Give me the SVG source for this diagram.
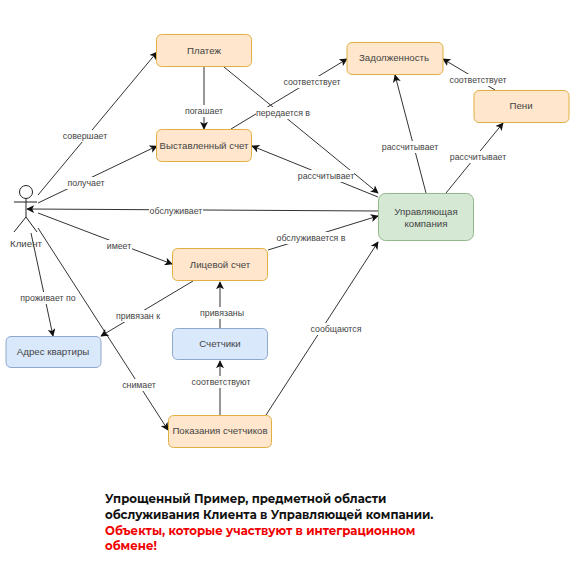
<svg xmlns="http://www.w3.org/2000/svg" width="584" height="565" viewBox="0 0 584 565">
<defs>
<marker id="arr" viewBox="0 0 10 10" refX="9" refY="5" markerWidth="8" markerHeight="8" markerUnits="userSpaceOnUse" orient="auto"><path d="M0 0L10 5L0 10L2.5 5Z" fill="#111"/></marker>
</defs>
<style>
text{font-family:"Liberation Sans",Arial,sans-serif;fill:#444;text-anchor:middle}
.n{font-size:9.700px}
.l{font-size:8.800px;fill:#444}
.c path{fill:none;stroke:#333;stroke-width:1;marker-end:url(#arr)}
.bg{fill:#fff}
.o{fill:#ffe6cc;stroke:#e0b040;stroke-width:1}
.b{fill:#dae8fc;stroke:#8fa8cc;stroke-width:1}
.g{fill:#d5e8d4;stroke:#92b88c;stroke-width:1}
.t{font-family:"Montserrat","Open Sans","Noto Sans",sans-serif;font-size:11.760px;font-weight:700;text-anchor:start;fill:#111}
</style>
<rect width="584" height="565" fill="#fff"/>
<g id="connectors" class="c">
<path d="M38 195L157 52"/>
<path d="M38 203L157 146"/>
<path d="M378 211L27 209"/>
<path d="M38 213L172 264"/>
<path d="M31 233L53 336"/>
<path d="M38 228L168 430"/>
<path d="M204 66V129"/>
<path d="M224 67L378 193"/>
<path d="M231 129L347 59"/>
<path d="M378 197L252 146"/>
<path d="M426 193L395 75"/>
<path d="M446 193L503 123"/>
<path d="M495 90L443 59"/>
<path d="M268 250L378 216"/>
<path d="M193 281L101 336"/>
<path d="M220 328V282"/>
<path d="M220 415V361"/>
<path d="M266 415L378 242"/>
</g>
<g id="connector-labels">
<rect class="bg" x="62" y="130" width="46" height="12"/><text class="l" x="85" y="139">совершает</text>
<rect class="bg" x="66" y="177" width="40" height="12"/><text class="l" x="86" y="186">получает</text>
<rect class="bg" x="149" y="205" width="54" height="11"/><text class="l" x="176" y="214">обслуживает</text>
<rect class="bg" x="106" y="240" width="26" height="12"/><text class="l" x="119" y="249">имеет</text>
<rect class="bg" x="20" y="292" width="56" height="12"/><text class="l" x="48" y="301">проживает по</text>
<rect class="bg" x="122" y="379" width="34" height="12"/><text class="l" x="139" y="388">снимает</text>
<rect class="bg" x="184" y="105" width="40" height="12"/><text class="l" x="204" y="114">погашает</text>
<rect class="bg" x="256" y="107" width="56" height="12"/><text class="l" x="283" y="116">передается в</text>
<rect class="bg" x="282" y="76" width="60" height="12"/><text class="l" x="312" y="85">соответствует</text>
<rect class="bg" x="382" y="141" width="56" height="12"/><text class="l" x="410" y="150">рассчитывает</text>
<rect class="bg" x="450" y="151" width="56" height="12"/><text class="l" x="478" y="160">рассчитывает</text>
<rect class="bg" x="298" y="170" width="56" height="12"/><text class="l" x="326" y="179">рассчитывает</text>
<rect class="bg" x="448" y="74" width="60" height="12"/><text class="l" x="478" y="83">соответствует</text>
<rect class="bg" x="277" y="232" width="68" height="12"/><text class="l" x="311" y="241">обслуживается в</text>
<rect class="bg" x="115" y="310" width="46" height="12"/><text class="l" x="138" y="319">привязан к</text>
<rect class="bg" x="200" y="307" width="44" height="12"/><text class="l" x="222" y="316">привязаны</text>
<rect class="bg" x="192" y="376" width="58" height="12"/><text class="l" x="221" y="385">соответствуют</text>
<rect class="bg" x="311" y="323" width="50" height="12"/><text class="l" x="336" y="332">сообщаются</text>
</g>
<g id="client" fill="none" stroke="#222" stroke-width="1">
<circle cx="26" cy="192" r="6.500" fill="#fff"/>
<path d="M26 198.500V217M14 202H37M26 217L14 232M26 217L37 232"/>
<text x="26" y="247" style="stroke:none;font-size:9.700px">Клиент</text>
</g>
<g id="payment"><rect class="o" x="156.500" y="34.500" width="95" height="32" rx="5"/><text class="n" x="204" y="54">Платеж</text></g>
<g id="invoice"><rect class="o" x="156.500" y="129.500" width="95" height="32" rx="5"/><text class="n" x="204" y="149">Выставленный счет</text></g>
<g id="debt"><rect class="o" x="347" y="42.500" width="96" height="32" rx="5"/><text class="n" x="394" y="61">Задолженность</text></g>
<g id="penalty"><rect class="o" x="474" y="90.500" width="95" height="32" rx="5"/><text class="n" x="521" y="109">Пени</text></g>
<g id="company"><rect class="g" x="378.500" y="193.500" width="95" height="47" rx="7"/><text class="n" x="426" y="215">Управляющая</text><text class="n" x="426" y="227">компания</text></g>
<g id="account"><rect class="o" x="172.500" y="248.500" width="95" height="32" rx="5"/><text class="n" x="220" y="268">Лицевой счет</text></g>
<g id="address"><rect class="b" x="6" y="336.500" width="95" height="31" rx="5"/><text class="n" x="53" y="355">Адрес квартиры</text></g>
<g id="meters"><rect class="b" x="172.500" y="328.500" width="95" height="31" rx="5"/><text class="n" x="220" y="347">Счетчики</text></g>
<g id="readings"><rect class="o" x="168.500" y="415.500" width="103" height="32" rx="5"/><text class="n" x="220" y="434">Показания счетчиков</text></g>
<g id="caption">
<text class="t" x="105" y="503">Упрощенный Пример, предметной области</text>
<text class="t" x="105" y="518.500">обслуживания Клиента в Управляющей компании.</text>
<text class="t" x="105" y="534.500" style="fill:#f00000">Объекты, которые участвуют в интеграционном</text>
<text class="t" x="105" y="550" style="fill:#f00000">обмене!</text>
</g>
</svg>
